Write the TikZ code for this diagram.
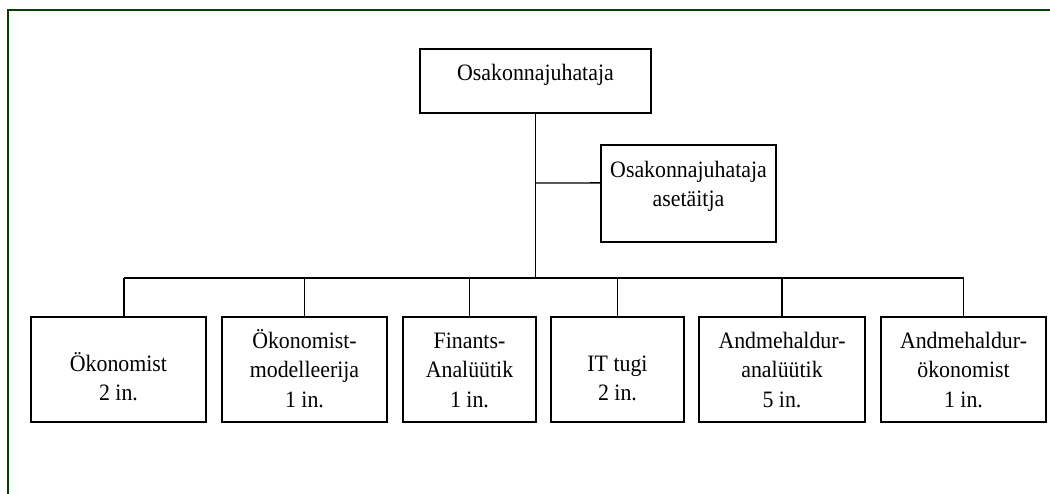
\documentclass[tikz,border=0pt]{standalone}
\usepackage{fontspec}
\setmainfont{Liberation Serif}[FakeStretch=0.93]
\usetikzlibrary{calc}
\definecolor{framegreen}{RGB}{0,64,0}
\tikzset{
  orgbox/.style={draw=black, line width=1.3pt, rectangle, inner sep=0pt},
  lbl/.style={anchor=north, align=center, inner sep=0pt,
    font=\fontsize{23.5}{29.5}\selectfont},
  conn/.style={draw=black, line width=1.3pt},
}
\begin{document}
\begin{tikzpicture}[x=1pt, y=-1pt]
\useasboundingbox (0,0) rectangle (1050,494);
\fill[white] (0,0) rectangle (1050,494);
\draw[framegreen, line width=1.3pt] (8,494) -- (8,10) -- (1050,10);

% boxes
\node[orgbox, minimum width=231pt, minimum height=64pt] (top) at (535.5,81) {};
\node[orgbox, minimum width=175pt, minimum height=97pt] (dep) at (688.5,193.5) {};
\node[orgbox, minimum width=175pt, minimum height=105pt] (b1) at (118.5,369.5) {};
\node[orgbox, minimum width=165pt, minimum height=105pt] (b2) at (304.5,369.5) {};
\node[orgbox, minimum width=133pt, minimum height=105pt] (b3) at (469.5,369.5) {};
\node[orgbox, minimum width=133pt, minimum height=105pt] (b4) at (617.5,369.5) {};
\node[orgbox, minimum width=166pt, minimum height=105pt] (b5) at (782,369.5) {};
\node[orgbox, minimum width=165pt, minimum height=105pt] (b6) at (963.5,369.5) {};

% labels
\node[lbl] (ltop) at (535.5,59.35) {\strut Osakonnajuhataja};
\node[lbl] (ldep) at (688.5,156.35) {\strut Osakonnajuhataja\\\strut asetäitja};
\node[lbl] (l1) at (118.5,350.35) {\strut Ökonomist\\\strut 2 in.};
\node[lbl] (l2) at (304.5,327.35) {\strut Ökonomist-\\\strut modelleerija\\\strut 1 in.};
\node[lbl] (l3) at (469.5,327.35) {\strut Finants-\\\strut Analüütik\\\strut 1 in.};
\node[lbl] (l4) at (617.5,350.35) {\strut IT tugi\\\strut 2 in.};
\node[lbl] (l5) at (782,327.35) {\strut Andmehaldur-\\\strut analüütik\\\strut 5 in.};
\node[lbl] (l6) at (963.5,327.35) {\strut Andmehaldur-\\\strut ökonomist\\\strut 1 in.};

% connectors
\coordinate (bus) at (535.5,278);
\coordinate (branch) at (535.5,183);
\coordinate (depin) at ($(dep.north west)!0.392!(dep.south west)$);
\coordinate (b1in) at ($(b1.north)+(5.5,0)$);
\draw[conn] (top.south) -- (bus);
\draw[conn] (branch) -- (depin);
\draw[conn] (b1in |- bus) -- (b6.north |- bus);
\draw[conn] (b1in |- bus) -- (b1in);
\draw[conn] (b2.north |- bus) -- (b2.north);
\draw[conn] (b3.north |- bus) -- (b3.north);
\draw[conn] (b4.north |- bus) -- (b4.north);
\draw[conn] (b5.north |- bus) -- (b5.north);
\draw[conn] (b6.north |- bus) -- (b6.north);
\end{tikzpicture}
\end{document}
